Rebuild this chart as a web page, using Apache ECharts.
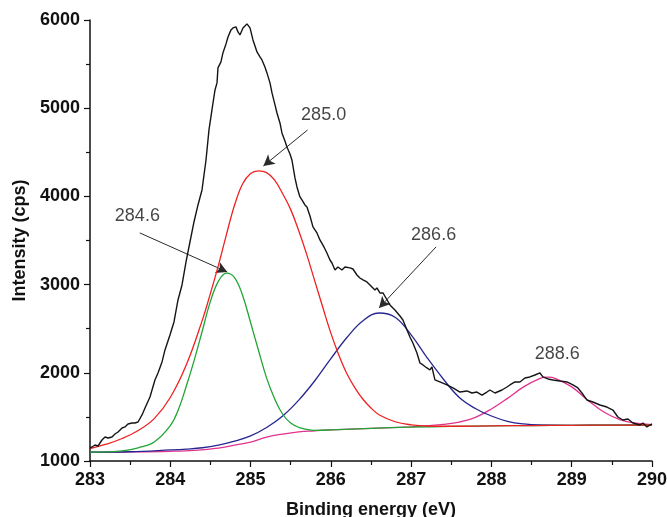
<!DOCTYPE html>
<html lang="en">
<head>
  <meta charset="UTF-8">
  <title>XPS C1s</title>
  <style>
  html, body { margin: 0; padding: 0; background: #fff; }
  #main { width: 667px; height: 517px; }
  </style>
  <script src="https://cdn.jsdelivr.net/npm/echarts@6/dist/echarts.min.js"></script>
</head>
<body>
  <div id="main"></div>
  <script>
  // measured spectrum
  var spectrumX = [283.000, 283.025, 283.062, 283.100, 283.149, 283.187, 283.224, 283.274, 283.311, 283.349,
    283.399, 283.436, 283.473, 283.523, 283.560, 283.598, 283.648, 283.685, 283.747, 283.809,
    283.847, 283.897, 283.934, 283.996, 284.046, 284.096, 284.146, 284.196, 284.245, 284.295,
    284.345, 284.395, 284.445, 284.482, 284.519, 284.557, 284.582, 284.594, 284.631, 284.656,
    284.694, 284.719, 284.756, 284.781, 284.818, 284.843, 284.868, 284.905, 284.930, 284.955,
    284.993, 285.030, 285.080, 285.117, 285.142, 285.179, 285.204, 285.242, 285.267, 285.304,
    285.329, 285.366, 285.391, 285.428, 285.453, 285.491, 285.515, 285.553, 285.578, 285.615,
    285.640, 285.677, 285.702, 285.740, 285.777, 285.827, 285.864, 285.914, 285.951, 285.989,
    286.014, 286.051, 286.088, 286.138, 286.176, 286.200, 286.238, 286.275, 286.325, 286.362,
    286.400, 286.449, 286.487, 286.524, 286.549, 286.574, 286.611, 286.649, 286.686, 286.736,
    286.798, 286.861, 286.898, 286.948, 286.985, 287.022, 287.072, 287.110, 287.147, 287.197,
    287.234, 287.259, 287.296, 287.358, 287.446, 287.520, 287.608, 287.695, 287.757, 287.819,
    287.882, 287.944, 287.981, 288.044, 288.131, 288.193, 288.230, 288.293, 288.355, 288.417,
    288.479, 288.542, 288.604, 288.641, 288.704, 288.766, 288.853, 288.940, 289.015, 289.077,
    289.127, 289.189, 289.264, 289.352, 289.438, 289.513, 289.575, 289.638, 289.700, 289.763,
    289.850, 289.887, 289.937, 289.975, 290.000];
  var spectrumY = [1147, 1159, 1181, 1170, 1238, 1272, 1261, 1272, 1306, 1329,
    1374, 1386, 1420, 1431, 1431, 1442, 1522, 1601, 1726, 1919,
    1998, 2123, 2259, 2429, 2576, 2826, 2996, 3257, 3483, 3710,
    3903, 4073, 4413, 4754, 4980, 5207, 5287, 5457, 5525, 5627,
    5729, 5808, 5888, 5910, 5922, 5865, 5831, 5910, 5933, 5956,
    5910, 5774, 5638, 5581, 5547, 5468, 5400, 5287, 5173, 5037,
    4946, 4833, 4720, 4629, 4561, 4481, 4413, 4209, 4107, 3994,
    3960, 3903, 3880, 3778, 3654, 3586, 3506, 3427, 3359, 3279,
    3245, 3166, 3200, 3166, 3200, 3189, 3189, 3177, 3109, 3075,
    3053, 3030, 2996, 2962, 2939, 2962, 2905, 2905, 2848, 2769,
    2712, 2644, 2599, 2486, 2406, 2338, 2225, 2111, 2089, 2055,
    2032, 2066, 1919, 1896, 1862, 1828, 1782, 1794, 1771, 1782,
    1748, 1782, 1805, 1771, 1805, 1839, 1862, 1896, 1896, 1941,
    1953, 1975, 1998, 1953, 1930, 1919, 1907, 1896, 1862, 1828,
    1771, 1692, 1669, 1635, 1612, 1578, 1499, 1465, 1476, 1431,
    1408, 1431, 1386, 1408, 1420];

  // fitted components (each on top of the background)
  var peak2846X = [283.0, 283.2, 283.4, 283.6, 283.8, 284.0, 284.1, 284.2, 284.3, 284.4, 284.5, 284.6, 284.7, 284.8,
    284.9, 285.0, 285.1, 285.2, 285.3, 285.4, 285.5, 285.6, 285.7, 285.8, 286.0, 286.5, 287.0, 287.5, 288.0, 288.5,
    289.0, 289.5, 290.0];
  var peak2846Y = [1100, 1103, 1115, 1150, 1215, 1400, 1580, 1850, 2150, 2480, 2810, 3040, 3130, 3080,
    2880, 2570, 2250, 1940, 1705, 1530, 1430, 1382, 1358, 1348, 1352, 1370, 1384, 1392, 1398, 1402,
    1405, 1407, 1408];

  var peak2850X = [283.0, 283.2, 283.4, 283.6, 283.8, 284.0, 284.2, 284.4, 284.5, 284.6, 284.7, 284.8, 284.9, 285.0,
    285.1, 285.2, 285.3, 285.4, 285.5, 285.6, 285.7, 285.8, 285.9, 286.0, 286.1, 286.2, 286.3, 286.4, 286.5, 286.6,
    286.8, 287.0, 287.2, 287.5, 288.0, 288.5, 289.0, 289.5, 290.0];
  var peak2850Y = [1140, 1190, 1255, 1345, 1480, 1720, 2090, 2600, 2900, 3220, 3570, 3900, 4140, 4260,
    4290, 4270, 4185, 4030, 3850, 3610, 3340, 3040, 2740, 2450, 2200, 1990, 1830, 1700, 1600, 1525,
    1445, 1410, 1396, 1394, 1398, 1402, 1405, 1407, 1408];

  var peak2866X = [283.0, 283.5, 284.0, 284.2, 284.4, 284.6, 284.8, 285.0, 285.2, 285.4, 285.6, 285.8, 286.0, 286.2,
    286.4, 286.6, 286.8, 287.0, 287.2, 287.4, 287.6, 287.8, 288.0, 288.2, 288.4, 288.6, 289.0, 289.5, 290.0];
  var peak2866Y = [1100, 1105, 1125, 1135, 1150, 1180, 1225, 1285, 1380, 1510, 1690, 1910, 2160, 2400,
    2590, 2678, 2630, 2430, 2170, 1930, 1720, 1595, 1510, 1450, 1420, 1408, 1405, 1407, 1408];

  var peak2886X = [283.0, 283.5, 284.0, 284.3, 284.6, 284.8, 285.0, 285.2, 285.4, 285.6, 285.8, 286.0, 286.5, 287.0,
    287.2, 287.4, 287.6, 287.8, 288.0, 288.2, 288.4, 288.6, 288.7, 288.8, 289.0, 289.2, 289.4, 289.6, 289.8, 290.0];
  var peak2886Y = [1100, 1103, 1110, 1120, 1145, 1180, 1215, 1270, 1305, 1330, 1342, 1352, 1370, 1388,
    1400, 1415, 1442, 1495, 1590, 1710, 1840, 1935, 1950, 1935, 1840, 1690, 1555, 1470, 1428, 1412];

  // peak labels and their arrows
  var labelText = ['284.6', '285.0', '286.6', '288.6'];
  var labelX = [283.59, 285.91, 287.28, 288.82];
  var labelY = [3778, 4924, 3563, 2213];
  var arrowFrom = [[283.62, 3586], [285.71, 4753], [287.31, 3427]];
  var arrowTo = [[284.71, 3143], [285.16, 4345], [286.60, 2735]];

  function pairs(xs, ys) {
    return xs.map(function(x, i) { return [x, ys[i]]; });
  }

  var font = 'Liberation Sans, Arial, sans-serif';
  var ink = '#111';

  function fitLine(name, color, xs, ys, z) {
    return {
      name: name,
      type: 'line',
      data: pairs(xs, ys),
      smooth: 0.4,
      showSymbol: false,
      symbol: 'none',
      z: z,
      lineStyle: { color: color, width: 1.3 }
    };
  }

  function axis(name, min, max, step, gap) {
    return {
      type: 'value',
      min: min,
      max: max,
      interval: step,
      name: name,
      nameLocation: 'middle',
      nameGap: gap,
      nameTextStyle: { fontFamily: font, fontSize: 18, fontWeight: 'bold', color: ink },
      axisLine: { show: true, lineStyle: { color: ink, width: 1.5 } },
      axisTick: { show: true, inside: false, length: 6, lineStyle: { color: ink, width: 1.2 } },
      minorTick: { show: true, splitNumber: 2, length: 4, lineStyle: { color: ink, width: 1.2 } },
      axisLabel: {
        fontFamily: font, fontSize: 18, fontWeight: 'bold', color: ink, margin: 10,
        formatter: function(v) { return String(v); }
      },
      splitLine: { show: false }
    };
  }

  var myChart = echarts.init(document.getElementById('main'));
  myChart.setOption({
    animation: false,
    backgroundColor: '#fff',
    grid: { left: 90, right: 15, top: 20, bottom: 56, outerBoundsMode: 'none', containLabel: false },
    xAxis: axis('Binding energy (eV)', 283, 290, 1, 40),
    yAxis: axis('Intensity (cps)', 1000, 6000, 1000, 58),
    series: [
      fitLine('288.6', '#e2338e', peak2886X, peak2886Y, 2),
      fitLine('286.6', '#262690', peak2866X, peak2866Y, 3),
      fitLine('284.6', '#21a535', peak2846X, peak2846Y, 4),
      fitLine('285.0', '#ee2222', peak2850X, peak2850Y, 5),
      {
        name: 'spectrum',
        type: 'line',
        data: pairs(spectrumX, spectrumY),
        showSymbol: false,
        symbol: 'none',
        z: 6,
        lineStyle: { color: '#151515', width: 1.4 },
        markLine: {
          silent: true,
          symbol: ['none', 'arrow'],
          symbolSize: [9, 11],
          label: { show: false },
          lineStyle: { color: '#2a2a2a', width: 1, type: 'solid' },
          data: arrowFrom.map(function(p, i) {
            return [{ coord: p }, { coord: arrowTo[i] }];
          })
        }
      },
      {
        name: 'labels',
        type: 'scatter',
        symbolSize: 0,
        silent: true,
        z: 7,
        data: pairs(labelX, labelY),
        label: {
          show: true,
          position: 'inside',
          fontFamily: font,
          fontSize: 18,
          color: '#151515',
          formatter: function(p) { return labelText[p.dataIndex]; }
        }
      }
    ]
  });
  </script>
</body>
</html>
